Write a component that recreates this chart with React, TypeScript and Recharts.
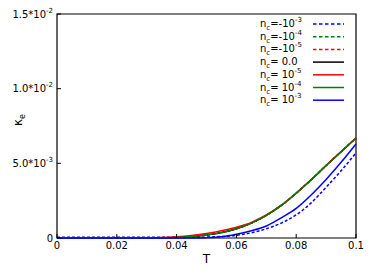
import { LineChart, Line, XAxis, YAxis, Legend, ReferenceArea } from "recharts";

const temps = [0, 0.005, 0.01, 0.015, 0.02, 0.025, 0.03, 0.035, 0.04, 0.045, 0.05, 0.055, 0.06, 0.065, 0.07, 0.075, 0.08, 0.085, 0.09, 0.095, 0.1];

const negE3 = [0.00005, 0.00005, 0.00005, 0.00005, 0.00005, 0.00005, 0.00005, 0.00005, 0.00005, 0.00005, 0.00006, 0.0001, 0.00018, 0.00035, 0.00062, 0.001, 0.00155, 0.00235, 0.0034, 0.0045, 0.0057];
const negE4 = [0, 0, 0, 0, 0, 0, 0, 0.00001, 0.00004, 0.0001, 0.0002, 0.00036, 0.00062, 0.001, 0.00152, 0.00218, 0.003, 0.0039, 0.00485, 0.00578, 0.0067];
const negE5 = [0, 0, 0, 0, 0, 0, 0, 0.00001, 0.00004, 0.0001, 0.0002, 0.00036, 0.00062, 0.001, 0.00152, 0.00218, 0.003, 0.0039, 0.00485, 0.00578, 0.0067];
const zero = [0, 0, 0, 0, 0, 0, 0, 0.00001, 0.00004, 0.0001, 0.0002, 0.00036, 0.00062, 0.001, 0.00152, 0.00218, 0.003, 0.0039, 0.00485, 0.00578, 0.0067];
const posE5 = [0, 0, 0, 0, 0, 0, 0.00001, 0.00003, 0.00008, 0.00017, 0.0003, 0.00048, 0.00072, 0.00105, 0.00154, 0.00218, 0.003, 0.0039, 0.00485, 0.00578, 0.0067];
const posE4 = [0, 0, 0, 0, 0, 0, 0, 0.00001, 0.00004, 0.0001, 0.0002, 0.00036, 0.00062, 0.001, 0.00152, 0.00218, 0.003, 0.0039, 0.00485, 0.00578, 0.0067];
const posE3 = [0, 0, 0, 0, 0, 0, 0, 0, 0, 0, 0.00002, 0.00008, 0.00025, 0.00048, 0.0008, 0.00135, 0.00198, 0.00288, 0.00392, 0.00507, 0.0063];

const xTicks = [0, 0.02, 0.04, 0.06, 0.08, 0.1];
const xTickLabels = ["0", "0.02", "0.04", "0.06", "0.08", "0.1"];
const yTicks = [0, 0.005, 0.01, 0.015];
const yTickBase = ["0", "5.0*10", "1.0*10", "1.5*10"];
const yTickExp = ["", "-3", "-2", "-2"];

const series = [
  { key: "negE3", label: "=-10", exp: "-3", color: "#0000ff", dash: "3 2" },
  { key: "negE4", label: "=-10", exp: "-4", color: "#007f00", dash: "3 2" },
  { key: "negE5", label: "=-10", exp: "-5", color: "#ff0000", dash: "3 2" },
  { key: "zero", label: "= 0.0", exp: "", color: "#000000", dash: undefined },
  { key: "posE5", label: "= 10", exp: "-5", color: "#ff0000", dash: undefined },
  { key: "posE4", label: "= 10", exp: "-4", color: "#007f00", dash: undefined },
  { key: "posE3", label: "= 10", exp: "-3", color: "#0000ff", dash: undefined },
];

const data = temps.map((t, i) => ({
  t,
  negE3: negE3[i],
  negE4: negE4[i],
  negE5: negE5[i],
  zero: zero[i],
  posE5: posE5[i],
  posE4: posE4[i],
  posE3: posE3[i],
}));

const font = "DejaVu Sans";

const XTick = (props: any) => {
  const { x, y, payload } = props;
  const i = xTicks.indexOf(payload.value);
  return (
    <g>
      <line x1={x} x2={x} y1={y} y2={y - 4} stroke="#000" />
      <text x={x} y={y + 11} textAnchor="middle" fontSize={10} fontFamily={font} fill="#000">
        {xTickLabels[i]}
      </text>
    </g>
  );
};

const YTick = (props: any) => {
  const { x, y, payload } = props;
  const i = yTicks.indexOf(payload.value);
  return (
    <g>
      <line x1={x} x2={x + 4} y1={y} y2={y} stroke="#000" />
      <text x={x - 4} y={y + 3.5} textAnchor="end" fontSize={10} fontFamily={font} fill="#000">
        {yTickBase[i]}
        {yTickExp[i] && (
          <tspan fontSize={7} dy={-5}>
            {yTickExp[i]}
          </tspan>
        )}
      </text>
    </g>
  );
};

const YLabel = (props: any) => {
  const { viewBox } = props;
  const cx = viewBox.x + 22;
  const cy = viewBox.y + viewBox.height / 2 - 6;
  return (
    <text x={cx} y={cy} transform={`rotate(-90 ${cx} ${cy})`} textAnchor="middle" fontSize={12} fontFamily={font} fill="#000">
      κ<tspan fontSize={8} dy={3}>e</tspan>
    </text>
  );
};

const XLabel = (props: any) => {
  const { viewBox } = props;
  return (
    <text x={viewBox.x + viewBox.width / 2} y={viewBox.y + 25} textAnchor="middle" fontSize={12} fontFamily={font} fill="#000">
      T
    </text>
  );
};

const LegendBox = () => (
  <svg width={100} height={95}>
    {series.map((s, i) => {
      const cy = 9 + i * 12.7;
      return (
        <g key={s.key}>
          <text x={4} y={cy + 3} fontSize={10} fontFamily={font} fill="#000">
            n<tspan fontSize={7} dy={3}>c</tspan>
            <tspan dy={-3}>{s.label}</tspan>
            {s.exp && (
              <tspan fontSize={7} dy={-5}>
                {s.exp}
              </tspan>
            )}
          </text>
          <line x1={57} x2={88} y1={cy} y2={cy} stroke={s.color} strokeWidth={1.5} strokeDasharray={s.dash ? "3.5 2.5" : undefined} />
        </g>
      );
    })}
  </svg>
);

export default function App() {
  return (
    <div style={{ position: "absolute", left: 0, top: 0 }}>
      <LineChart width={374} height={280} data={data} margin={{ top: 14, right: 18, left: 0, bottom: 0 }}>
        <XAxis
          dataKey="t"
          type="number"
          domain={[0, 0.1]}
          ticks={xTicks}
          tick={<XTick />}
          tickLine={false}
          tickSize={0}
          tickMargin={0}
          axisLine={false}
          height={42}
          label={<XLabel />}
        />
        <YAxis
          type="number"
          domain={[0, 0.015]}
          ticks={yTicks}
          tick={<YTick />}
          tickLine={false}
          tickSize={0}
          tickMargin={0}
          axisLine={false}
          width={57}
          label={<YLabel />}
        />
        <ReferenceArea x1={0} x2={0.1} y1={0} y2={0.015} fill="none" stroke="#000" strokeWidth={1.2} ifOverflow="visible" />
        {series.map((s) => (
          <Line
            key={s.key}
            type="monotone"
            dataKey={s.key}
            stroke={s.color}
            strokeWidth={1.5}
            strokeDasharray={s.dash}
            dot={false}
            isAnimationActive={false}
          />
        ))}
        <Legend
          layout="vertical"
          align="center"
          verticalAlign="middle"
          content={<LegendBox />}
          wrapperStyle={{ left: 256, top: 15, width: 100 }}
        />
      </LineChart>
    </div>
  );
}
